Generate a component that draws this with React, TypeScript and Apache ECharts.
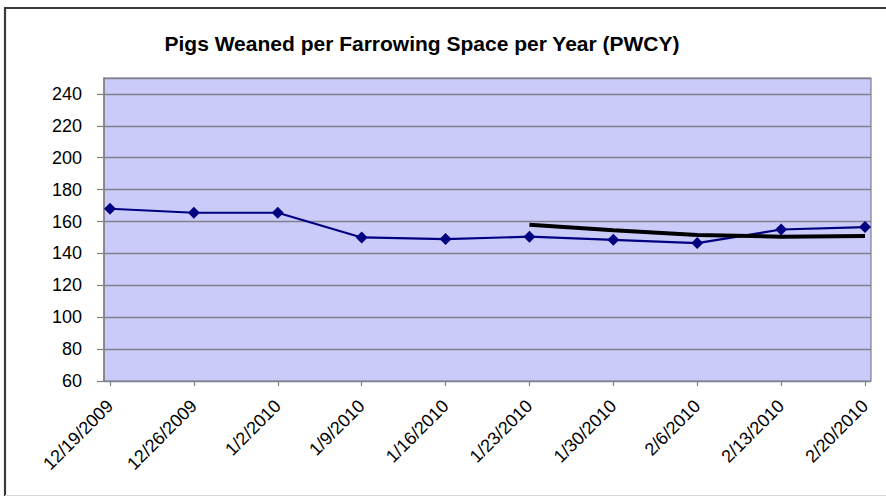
import React, { useEffect, useRef } from "react";
import * as echarts from "echarts";

const categories = [
  "12/19/2009", "12/26/2009", "1/2/2010", "1/9/2010", "1/16/2010",
  "1/23/2010", "1/30/2010", "2/6/2010", "2/13/2010", "2/20/2010",
];
const pwcyValues = [168, 165.5, 165.5, 150, 149, 150.5, 148.5, 146.5, 155, 156.5];
const trendValues: (number | null)[] = [null, null, null, null, null, 158, 154.5, 151.5, 150.5, 151];
const titleText = "Pigs Weaned per Farrowing Space per Year (PWCY)";

const FONT = "'Liberation Sans', Arial, sans-serif";

export default function App() {
  const ref = useRef<HTMLDivElement>(null);
  useEffect(() => {
    if (!ref.current) return;
    const chart = echarts.init(ref.current, undefined, { renderer: "svg" });
    chart.setOption({
      animation: false,
      backgroundColor: "#ffffff",
      grid: [
        {
          left: 104, right: 15, top: 78, bottom: 118,
          show: true, backgroundColor: "#cbcbfa", borderColor: "#7d7d8f", borderWidth: 1.2,
        },
        { left: 110, right: 21, top: 78, bottom: 118 },
      ],
      xAxis: [
        {
          gridIndex: 0, type: "category", data: categories, show: false,
        },
        {
          gridIndex: 1, type: "category", data: categories, boundaryGap: false,
          axisLine: { show: false },
          axisTick: { show: true, length: 5, lineStyle: { color: "#808080", width: 1.2 } },
          splitLine: { show: false },
          axisLabel: {
            rotate: 45, margin: 22, color: "#000", fontSize: 18, fontFamily: FONT,
            interval: 0,
          },
        },
      ],
      yAxis: [
        {
          gridIndex: 0, type: "value", min: 60, max: 250, interval: 20,
          axisLine: { show: true, lineStyle: { color: "#808080", width: 1.5 } },
          axisTick: { show: true, length: 7, lineStyle: { color: "#808080", width: 1.2 } },
          splitLine: { show: true, lineStyle: { color: "#80808f", width: 1.4 } },
          axisLabel: {
            margin: 22, color: "#000", fontSize: 18, fontFamily: FONT,
            showMaxLabel: false,
          },
        },
        {
          gridIndex: 1, type: "value", min: 60, max: 250, interval: 20, show: false,
          splitLine: { show: false },
        },
      ],
      series: [
        {
          type: "line", xAxisIndex: 1, yAxisIndex: 1, data: pwcyValues,
          symbol: "diamond", symbolSize: 12, showSymbol: true,
          lineStyle: { color: "#000080", width: 2.2 },
          itemStyle: { color: "#000080" },
          z: 3,
        },
        {
          type: "line", xAxisIndex: 1, yAxisIndex: 1, data: trendValues,
          symbol: "none", connectNulls: false,
          lineStyle: { color: "#000000", width: 4 },
          z: 4,
        },
      ],
      graphic: [
        {
          type: "polyline", shape: { points: [[5, 496], [5, 8], [890, 8]] },
          style: { stroke: "#3a3a3a", lineWidth: 2.2, fill: "none" }, z: 100,
        },
        {
          type: "line", shape: { x1: 5, y1: 495.5, x2: 886, y2: 495.5 },
          style: { stroke: "#d8d8d8", lineWidth: 1 }, z: 100,
        },
        {
          type: "text", x: 422, y: 43,
          style: {
            text: titleText, fill: "#000", font: `bold 21px ${FONT}`,
            textAlign: "center", textVerticalAlign: "middle",
          },
          z: 100,
        },
      ],
    });
    return () => chart.dispose();
  }, []);
  return (
    <div
      ref={ref}
      style={{ position: "fixed", left: 0, top: 0, width: 886, height: 499 }}
    />
  );
}
